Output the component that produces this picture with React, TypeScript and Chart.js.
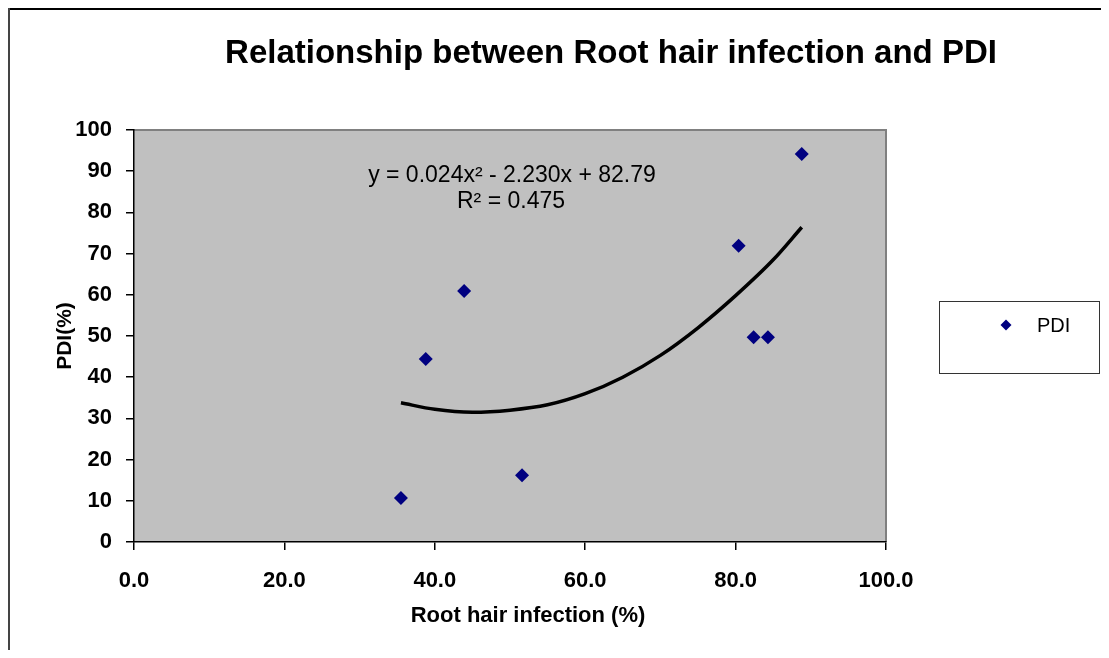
import React, { useEffect, useRef } from "react";
import { Chart, registerables } from "chart.js";

Chart.register(...registerables);

const rootHairInfection = [35.5, 38.8, 43.9, 51.6, 80.4, 82.4, 84.3, 88.8];
const pdiValues = [10.7, 44.4, 60.9, 16.2, 71.9, 49.7, 49.7, 94.2];

const trendX = [35.5, 40, 45, 50, 55, 60, 65, 70, 75, 80, 85, 88.8];
const trendY = [33.8, 32.2, 31.5, 32.0, 33.3, 36.0, 40.0, 45.3, 52.0, 59.8, 68.5, 76.4];

const xTicks = [0, 20, 40, 60, 80, 100];
const yTicks = [0, 10, 20, 30, 40, 50, 60, 70, 80, 90, 100];

const titleText = "Relationship between Root hair infection and PDI";
const xTitle = "Root hair infection (%)";
const yTitle = "PDI(%)";
const equationLine1 = "y = 0.024x\u00B2 - 2.230x + 82.79";
const equationLine2 = "R\u00B2 = 0.475";
const legendLabel = "PDI";

const FONT = "'Liberation Sans', Arial, sans-serif";

export default function App() {
  const ref = useRef<HTMLCanvasElement | null>(null);

  useEffect(() => {
    const canvas = ref.current;
    if (!canvas) return;

    const decor = {
      id: "decor",
      beforeDraw(chart: any) {
        const ctx = chart.ctx;
        const { width, height } = chart;
        const a = chart.chartArea;
        ctx.save();
        ctx.fillStyle = "#ffffff";
        ctx.fillRect(0, 0, width, height);
        // outer frame
        ctx.fillStyle = "#000000";
        ctx.fillRect(0, 0, width, 2);
        ctx.fillStyle = "#444444";
        ctx.fillRect(0, 0, 2, height);
        // plot area
        ctx.fillStyle = "#C0C0C0";
        ctx.fillRect(a.left, a.top, a.right - a.left, a.bottom - a.top);
        ctx.strokeStyle = "#808080";
        ctx.lineWidth = 2;
        ctx.beginPath();
        ctx.moveTo(a.left, a.top);
        ctx.lineTo(a.right, a.top);
        ctx.lineTo(a.right, a.bottom);
        ctx.stroke();
        ctx.restore();
      },
      afterDraw(chart: any) {
        const ctx = chart.ctx;
        ctx.save();
        ctx.fillStyle = "#000000";
        ctx.textAlign = "center";
        ctx.textBaseline = "middle";
        // title
        ctx.font = `bold 33px ${FONT}`;
        ctx.fillText(titleText, 603, 46);
        // equation
        ctx.font = `23px ${FONT}`;
        ctx.fillText(equationLine1, 504, 168);
        ctx.fillText(equationLine2, 503, 194);
        // x axis title
        ctx.font = `bold 22px ${FONT}`;
        ctx.fillText(xTitle, 520, 608);
        // y axis title
        ctx.save();
        ctx.translate(57, 328);
        ctx.rotate(-Math.PI / 2);
        ctx.font = `bold 21px ${FONT}`;
        ctx.fillText(yTitle, 0, 0);
        ctx.restore();
        // legend
        ctx.strokeStyle = "#333333";
        ctx.lineWidth = 1;
        ctx.strokeRect(931.5, 293.5, 160, 72);
        ctx.fillStyle = "#000080";
        ctx.beginPath();
        const mx = 998, my = 317, r = 5.5;
        ctx.moveTo(mx, my - r);
        ctx.lineTo(mx + r, my);
        ctx.lineTo(mx, my + r);
        ctx.lineTo(mx - r, my);
        ctx.closePath();
        ctx.fill();
        ctx.fillStyle = "#000000";
        ctx.textAlign = "left";
        ctx.font = `20px ${FONT}`;
        ctx.fillText(legendLabel, 1029, 318);
        ctx.restore();
      },
    };

    const chart = new Chart(canvas, {
      type: "scatter",
      data: {
        datasets: [
          {
            label: "Trend",
            data: trendX.map((x, i) => ({ x, y: trendY[i] })),
            showLine: true,
            borderColor: "#000000",
            borderWidth: 3.5,
            pointRadius: 0,
            cubicInterpolationMode: "monotone",
            order: 2,
          } as any,
          {
            label: legendLabel,
            data: rootHairInfection.map((x, i) => ({ x, y: pdiValues[i] })),
            pointStyle: "rectRot",
            pointRadius: 7,
            backgroundColor: "#000080",
            borderColor: "#000080",
            borderWidth: 0,
            order: 1,
          },
        ],
      },
      plugins: [decor],
      options: {
        responsive: false,
        animation: false,
        devicePixelRatio: 1,
        layout: { padding: { top: 122, left: 0, right: 223, bottom: 0 } },
        plugins: {
          legend: { display: false },
          title: { display: false },
          tooltip: { enabled: false },
        },
        scales: {
          x: {
            type: "linear",
            min: 0,
            max: 100,
            afterBuildTicks: (scale: any) => {
              scale.ticks = xTicks.map((v) => ({ value: v }));
            },
            afterFit: (scale: any) => {
              scale.height = 108;
            },
            ticks: {
              padding: 18,
              color: "#000000",
              font: { family: FONT, size: 22, weight: "bold" },
              callback: (v: any) => Number(v).toFixed(1),
              maxRotation: 0,
            },
            grid: {
              drawOnChartArea: false,
              drawTicks: true,
              tickLength: 8,
              color: "#000000",
              lineWidth: 1.5,
            },
            border: { display: true, color: "#000000", width: 1.5 },
          },
          y: {
            type: "linear",
            min: 0,
            max: 100,
            afterBuildTicks: (scale: any) => {
              scale.ticks = yTicks.map((v) => ({ value: v }));
            },
            afterFit: (scale: any) => {
              scale.width = 126;
            },
            ticks: {
              padding: 14,
              color: "#000000",
              font: { family: FONT, size: 22, weight: "bold" },
            },
            grid: {
              drawOnChartArea: false,
              drawTicks: true,
              tickLength: 8,
              color: "#000000",
              lineWidth: 1.5,
            },
            border: { display: true, color: "#000000", width: 1.5 },
          },
        },
      } as any,
    });

    return () => chart.destroy();
  }, []);

  return (
    <canvas
      ref={ref}
      width={1101}
      height={642}
      style={{ display: "block", width: "1101px", height: "642px" }}
    />
  );
}
